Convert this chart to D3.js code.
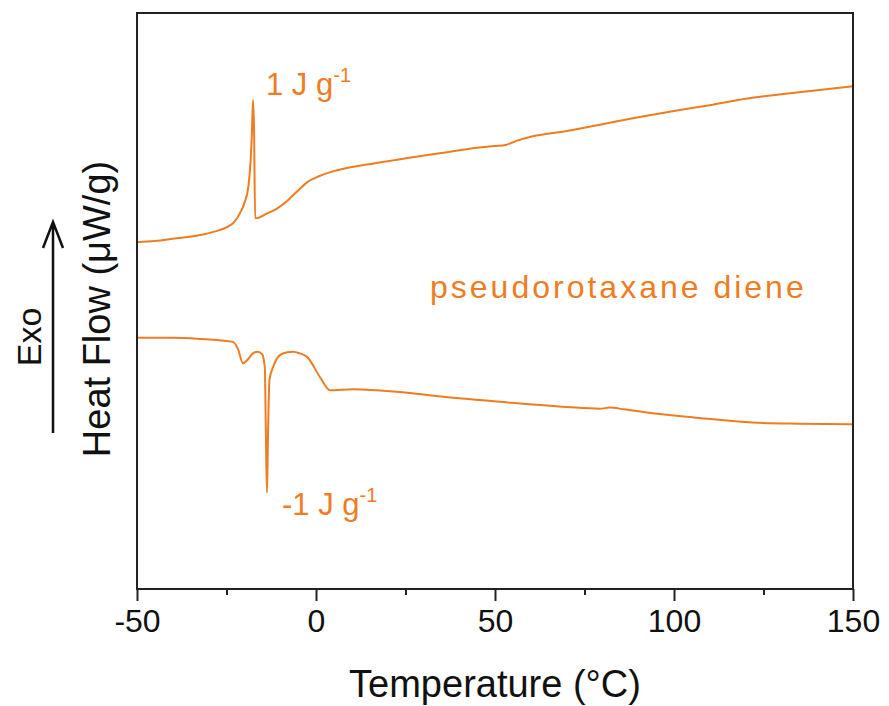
<!DOCTYPE html>
<html>
<head>
<meta charset="utf-8">
<script src="https://cdn.jsdelivr.net/npm/d3@7"></script>
<style>
  body { margin: 0; background: #fff; }
  text { font-family: Arial, "Liberation Sans", sans-serif; }
</style>
</head>
<body>
<div id="chart"></div>
<script>
// heating trace (upper) : temperature in °C, heat flow in arbitrary units
var upperTemp = [-50, -45, -40, -32, -27, -25, -23, -21.2, -20, -18.9, -18.3, -17.9, -17.6, -17.3, -17.0, -16.5,
                 -14, -11, -8, -5, -2.5, 1, 4.7, 8, 14.2, 23.5, 35, 45, 50, 53, 56, 60, 70, 80, 90, 100, 110, 120, 130, 140, 150];
var upperFlow = [60.2, 60.4, 60.8, 61.5, 62.3, 62.8, 63.6, 65.3, 67.0, 69.8, 74.0, 79.2, 84.9, 79.7, 64.4, 64.4,
                 65.1, 66.0, 67.4, 69.2, 70.6, 71.7, 72.5, 73.0, 73.7, 74.6, 75.7, 76.6, 76.9, 77.1, 77.8, 78.5, 79.5, 80.7, 81.9, 83.0, 84.0, 85.1, 85.9, 86.6, 87.3];

// cooling trace (lower)
var lowerTemp = [-50, -40, -32, -27, -23.2, -21.8, -20.4, -19, -17.6, -16.3, -15.1, -14.3, -14.0, -13.7, -13.4, -13.0, -12.0,
                 -10.1, -8, -6.4, -4.5, -2.5, 1.1, 3.9, 10.3, 23.5, 35, 51.4, 70, 79.3, 82, 86, 93, 107, 122, 135, 150];
var lowerFlow = [43.6, 43.6, 43.4, 43.2, 42.9, 41.7, 39.2, 39.9, 40.9, 41.2, 40.8, 38.5, 27.0, 16.7, 27.0, 36.3, 38.5,
                 40.6, 41.1, 41.2, 40.9, 40.3, 36.8, 34.5, 34.7, 34.2, 33.4, 32.5, 31.6, 31.3, 31.5, 31.2, 30.6, 29.7, 28.9, 28.7, 28.6];

var xTicks = [-50, 0, 50, 100, 150];
var xMinorTicks = [-25, 25, 75, 125];

var W = 889, H = 706;
var margin = {left: 137, right: 36, top: 13, bottom: 117};
var orange = "#EF7C22";

var svg = d3.select("#chart").append("svg")
    .attr("width", W)
    .attr("height", H);

var x = d3.scaleLinear().domain([-50, 150]).range([margin.left, W - margin.right]);
var y = d3.scaleLinear().domain([0, 100]).range([H - margin.bottom, margin.top]);

var line = d3.line()
    .x(function(d) { return x(d[0]); })
    .y(function(d) { return y(d[1]); })
    .curve(d3.curveMonotoneX);

var upper = d3.zip(upperTemp, upperFlow);
var lower = d3.zip(lowerTemp, lowerFlow);

[upper, lower].forEach(function(series) {
    svg.append("path")
        .datum(series)
        .attr("fill", "none")
        .attr("stroke", orange)
        .attr("stroke-width", 2)
        .attr("stroke-linejoin", "round")
        .attr("d", line);
});

// frame
svg.append("rect")
    .attr("x", margin.left)
    .attr("y", margin.top)
    .attr("width", W - margin.left - margin.right)
    .attr("height", H - margin.top - margin.bottom)
    .attr("fill", "none")
    .attr("stroke", "#222")
    .attr("stroke-width", 2);

// bottom axis
var xAxis = svg.append("g")
    .attr("transform", "translate(0," + (H - margin.bottom) + ")")
    .call(d3.axisBottom(x).tickValues(xTicks).tickSize(12).tickPadding(8).tickFormat(function(d) { return String(d); }));
xAxis.select(".domain").remove();
xAxis.selectAll(".tick line").attr("stroke", "#222").attr("stroke-width", 2);
xAxis.selectAll(".tick text")
    .attr("fill", "#111")
    .style("font-size", "32px")
    .style("font-family", "Arial, 'Liberation Sans', sans-serif");

var xMinor = svg.append("g")
    .attr("transform", "translate(0," + (H - margin.bottom) + ")")
    .call(d3.axisBottom(x).tickValues(xMinorTicks).tickSize(6).tickFormat(""));
xMinor.select(".domain").remove();
xMinor.selectAll(".tick line").attr("stroke", "#222").attr("stroke-width", 2);

// axis titles
svg.append("text")
    .attr("x", 495)
    .attr("y", 697)
    .attr("text-anchor", "middle")
    .attr("fill", "#111")
    .style("font-size", "38px")
    .text("Temperature (°C)");

svg.append("text")
    .attr("transform", "translate(110,309) rotate(-90)")
    .attr("text-anchor", "middle")
    .attr("fill", "#111")
    .style("font-size", "38px")
    .text("Heat Flow (μW/g)");

svg.append("text")
    .attr("transform", "translate(41,337) rotate(-90)")
    .attr("text-anchor", "middle")
    .attr("fill", "#111")
    .style("font-size", "34px")
    .text("Exo");

// exo arrow
svg.append("path")
    .attr("d", "M53,433 L53,222 M43,248 L53,222 L63,248")
    .attr("fill", "none")
    .attr("stroke", "#111")
    .attr("stroke-width", 2.5);

// annotations
function jLabel(xp, yp, prefix) {
    var t = svg.append("text")
        .attr("x", xp)
        .attr("y", yp)
        .attr("fill", orange)
        .style("font-size", "31px");
    t.append("tspan").text(prefix + " J g");
    t.append("tspan").attr("dy", -13).style("font-size", "20px").text("-1");
}
jLabel(266, 95, "1");
jLabel(282, 515, "-1");

svg.append("text")
    .attr("x", 430)
    .attr("y", 298)
    .attr("fill", orange)
    .style("font-size", "32px")
    .style("letter-spacing", "3px")
    .text("pseudorotaxane diene");
</script>
</body>
</html>
